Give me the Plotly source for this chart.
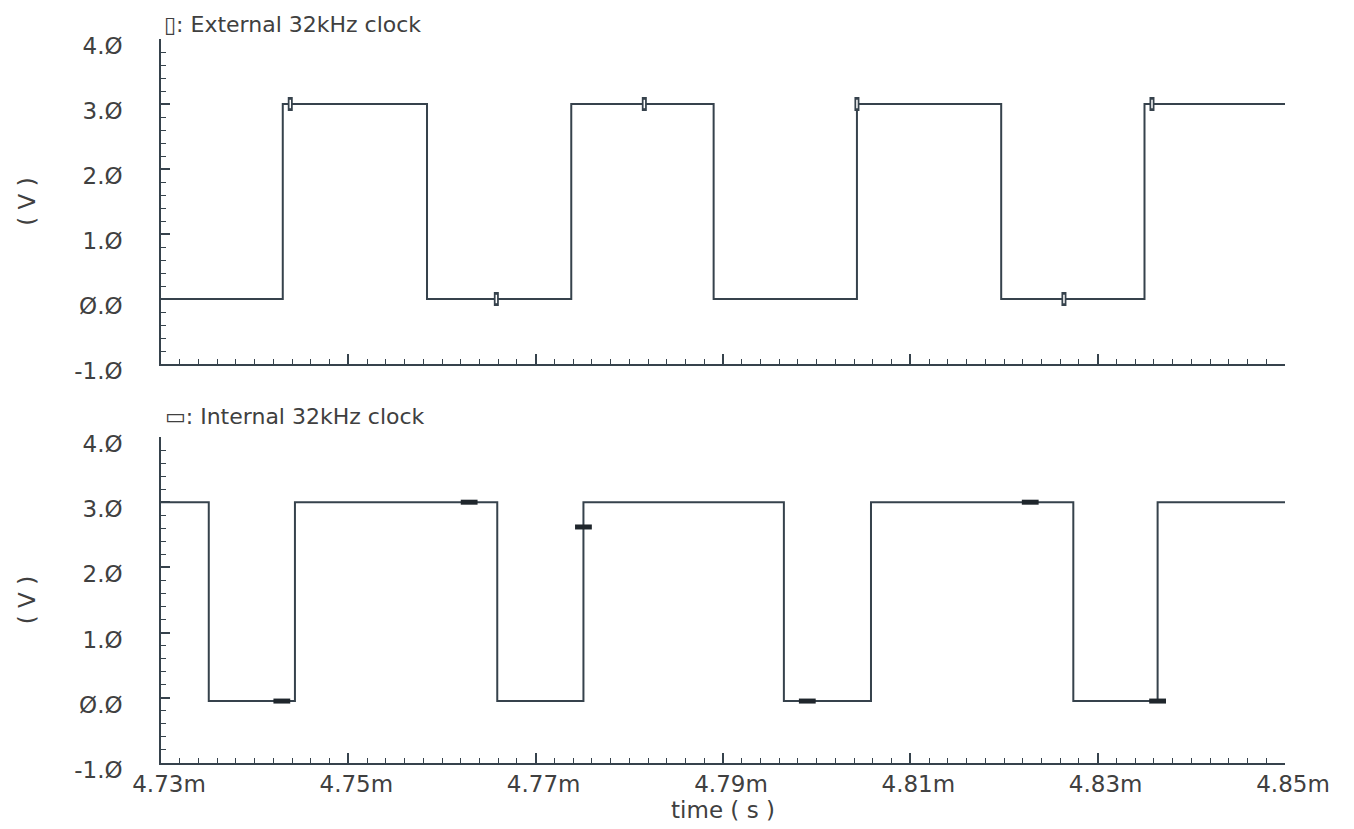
import plotly.graph_objects as go
from plotly.subplots import make_subplots

# ---- data (time in ms, voltage in V) ----
ext_t = [4.730, 4.7430, 4.7584, 4.7738, 4.7890, 4.8043, 4.8197, 4.8350, 4.850]
ext_v = [0.0, 3.0, 0.0, 3.0, 0.0, 3.0, 0.0, 3.0, 3.0]
int_t = [4.730, 4.7351, 4.7443, 4.7659, 4.7751, 4.7965, 4.8058, 4.8274, 4.8364, 4.850]
int_v = [3.0, -0.05, 3.0, -0.05, 3.0, -0.05, 3.0, -0.05, 3.0, 3.0]

ext_mark_t = [4.7438, 4.7658, 4.7816, 4.8043, 4.8264, 4.8358]
ext_mark_v = [3.0, 0.0, 3.0, 3.0, 0.0, 3.0]
int_mark_t = [4.7429, 4.7629, 4.7751, 4.7990, 4.8228, 4.8364]
int_mark_v = [-0.05, 3.0, 2.62, -0.05, 3.0, -0.05]

y_ticks = [-1.0, 0.0, 1.0, 2.0, 3.0, 4.0]
y_ticktext = ["-1.Ø", "Ø.Ø", "1.Ø", "2.Ø", "3.Ø", "4.Ø"]
x_range = [4.73, 4.85]

ext_name = "External 32kHz clock"
int_name = "Internal 32kHz clock"

LINE = "#36424c"
TXT = "#404040"
FONT = "DejaVu Sans"

fig = make_subplots(rows=2, cols=1, vertical_spacing=0.1)

fig.add_trace(go.Scatter(x=ext_t, y=ext_v, mode="lines", line=dict(shape="hv", color=LINE, width=2),
                         name=ext_name, showlegend=False), row=1, col=1)
fig.add_trace(go.Scatter(x=ext_mark_t, y=ext_mark_v, mode="markers",
                         marker=dict(symbol="line-ns", size=10, line=dict(width=5, color=LINE)),
                         showlegend=False, hoverinfo="skip"), row=1, col=1)
fig.add_trace(go.Scatter(x=ext_mark_t, y=ext_mark_v, mode="markers",
                         marker=dict(symbol="line-ns", size=6, line=dict(width=1.5, color="white")),
                         showlegend=False, hoverinfo="skip"), row=1, col=1)

fig.add_trace(go.Scatter(x=int_t, y=int_v, mode="lines", line=dict(shape="hv", color=LINE, width=2),
                         name=int_name, showlegend=False), row=2, col=1)
fig.add_trace(go.Scatter(x=int_mark_t, y=int_mark_v, mode="markers",
                         marker=dict(symbol="line-ew", size=12, line=dict(width=5, color="#1f262c")),
                         showlegend=False, hoverinfo="skip"), row=2, col=1)

# page body adds an 8px offset; margins compensate so the axes land where the reference has them
OFF = 8
W, H = 1354, 829
m_l, m_r = 161 - OFF, W - 1285 + OFF
m_t, m_b = 39 - OFF, H - 763 + OFF
plot_h = H - m_t - m_b

xcommon = dict(range=x_range, tick0=4.73, dtick=0.02, ticks="inside", ticklen=10, tickwidth=1.5,
               tickcolor=LINE, showline=True, linecolor=LINE, linewidth=1.5, showgrid=False,
               zeroline=False, mirror=False, automargin=False,
               minor=dict(ticks="inside", ticklen=5, dtick=0.002, tickcolor=LINE, tickwidth=1, showgrid=False))
ycommon = dict(range=[-1, 4], tickvals=y_ticks, ticktext=y_ticktext, ticks="inside", ticklen=9,
               tickwidth=1.5, tickcolor=LINE, showline=True, linecolor=LINE, linewidth=1.5,
               showgrid=False, zeroline=False, mirror=False, automargin=False,
               ticklabelstandoff=32, ticklabelshift=7,
               tickfont=dict(family=FONT, size=23, color=TXT),
               title=dict(text="( V )", font=dict(family=FONT, size=23, color=TXT), standoff=32),
               minor=dict(ticks="inside", ticklen=5, dtick=0.2, tickcolor=LINE, tickwidth=1, showgrid=False))

fig.update_xaxes(**xcommon)
fig.update_xaxes(showticklabels=False, row=1, col=1)
fig.update_xaxes(tickformat=".2f", ticksuffix="m", ticklabelshift=8,
                 tickfont=dict(family=FONT, size=23, color=TXT),
                 title=dict(text="time ( s )", font=dict(family=FONT, size=23, color=TXT), standoff=2),
                 row=2, col=1)
fig.update_yaxes(**ycommon)

fig.update_layout(
    width=W, height=H,
    margin=dict(l=m_l, r=m_r, t=m_t, b=m_b, autoexpand=False),
    paper_bgcolor="white", plot_bgcolor="white",
    yaxis=dict(domain=[(763 - 364) / plot_h, 1.0]),
    yaxis2=dict(domain=[0.0, (763 - 437) / plot_h]),
)

fig.add_annotation(text="▯: " + ext_name, xref="paper", yref="paper", x=0.0, y=1.0, xshift=2, yshift=1,
                   xanchor="left", yanchor="bottom", showarrow=False, borderpad=0,
                   font=dict(family=FONT, size=22, color=TXT))
fig.add_annotation(text="▭: " + int_name, xref="paper", yref="paper", x=0.0,
                   y=(763 - 437) / plot_h, xshift=2, yshift=6,
                   xanchor="left", yanchor="bottom", showarrow=False,
                   font=dict(family=FONT, size=22, color=TXT))

fig.write_html("out.html")
